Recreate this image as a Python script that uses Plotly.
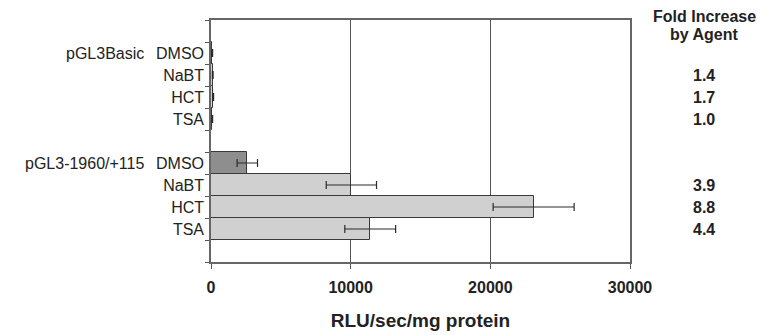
import plotly.graph_objects as go

# Category slots (top to bottom); blank ids are spacer rows
slot_ids = ["sp0", "b_DMSO", "b_NaBT", "b_HCT", "b_TSA", "sp1",
            "p_DMSO", "p_NaBT", "p_HCT", "p_TSA", "sp2"]
slot_labels = ["", "DMSO", "NaBT", "HCT", "TSA", "", "DMSO", "NaBT", "HCT", "TSA", ""]

bar_ids = ["b_DMSO", "b_NaBT", "b_HCT", "b_TSA", "p_DMSO", "p_NaBT", "p_HCT", "p_TSA"]
values = [90, 125, 155, 90, 2600, 10050, 23100, 11400]
errors = [25, 25, 30, 25, 730, 1800, 2900, 1820]
bar_colors = ["#d0d0d0", "#d0d0d0", "#d0d0d0", "#d0d0d0",
              "#8e8e8e", "#d0d0d0", "#d0d0d0", "#d0d0d0"]

group_names = ["pGL3Basic", "pGL3-1960/+115"]
group_rows = ["b_DMSO", "p_DMSO"]

fold_rows = ["b_NaBT", "b_HCT", "b_TSA", "p_NaBT", "p_HCT", "p_TSA"]
fold_values = ["1.4", "1.7", "1.0", "3.9", "8.8", "4.4"]
fold_header = ["Fold Increase", "by Agent"]

x_ticks = [0, 10000, 20000, 30000]

FONT = "Liberation Sans, Arial, Helvetica, sans-serif"

fig = go.Figure(go.Bar(
    y=bar_ids, x=values, orientation="h",
    marker=dict(color=bar_colors, line=dict(color="#3a3a3a", width=1)),
    error_x=dict(type="data", array=errors, color="#2a2a2a", thickness=1.2, width=4),
))

for name, row in zip(group_names, group_rows):
    fig.add_annotation(x=0, xref="paper", xanchor="right", xshift=-65,
                       y=row, yref="y", text=name, showarrow=False,
                       font=dict(family=FONT, size=16, color="#222"))

for row, fv in zip(fold_rows, fold_values):
    fig.add_annotation(x=1, xref="paper", xanchor="center", xshift=74,
                       y=row, yref="y", text="<b>%s</b>" % fv, showarrow=False,
                       font=dict(family=FONT, size=16, color="#222"))

for line, shift in zip(fold_header, [4, -14]):
    fig.add_annotation(x=1, xref="paper", xanchor="center", xshift=74,
                       y=1, yref="paper", yanchor="middle", yshift=shift,
                       text="<b>%s</b>" % line, showarrow=False,
                       font=dict(family=FONT, size=16, color="#222"), borderpad=0)

fig.update_layout(
    width=760, height=327,
    margin=dict(l=203, r=138, t=12, b=73),
    paper_bgcolor="white", plot_bgcolor="white",
    bargap=0, showlegend=False,
    font=dict(family=FONT, color="#222"),
    xaxis=dict(range=[0, 30000], tickvals=x_ticks, ticktext=["<b>%d</b>" % v for v in x_ticks],
               tickfont=dict(size=16), ticks="outside", ticklen=5, tickcolor="#555",
               ticklabelstandoff=5,
               showline=True, linecolor="#666", linewidth=1.5, mirror=True,
               showgrid=True, gridcolor="#555", gridwidth=1, zeroline=False,
               automargin=False,
               title=dict(text="<b>RLU/sec/mg protein</b>", font=dict(size=19), standoff=19)),
    yaxis=dict(type="category", categoryorder="array", categoryarray=slot_ids,
               range=[10.5, -0.5], tickmode="array", tickvals=slot_ids, ticktext=slot_labels,
               tickson="boundaries", ticks="outside", ticklen=4, tickcolor="#555",
               ticklabelstandoff=2,
               tickfont=dict(size=16), showline=True, linecolor="#666", linewidth=1.5,
               mirror=True, showgrid=False, zeroline=False, automargin=False),
)

fig.write_html("out.html")
